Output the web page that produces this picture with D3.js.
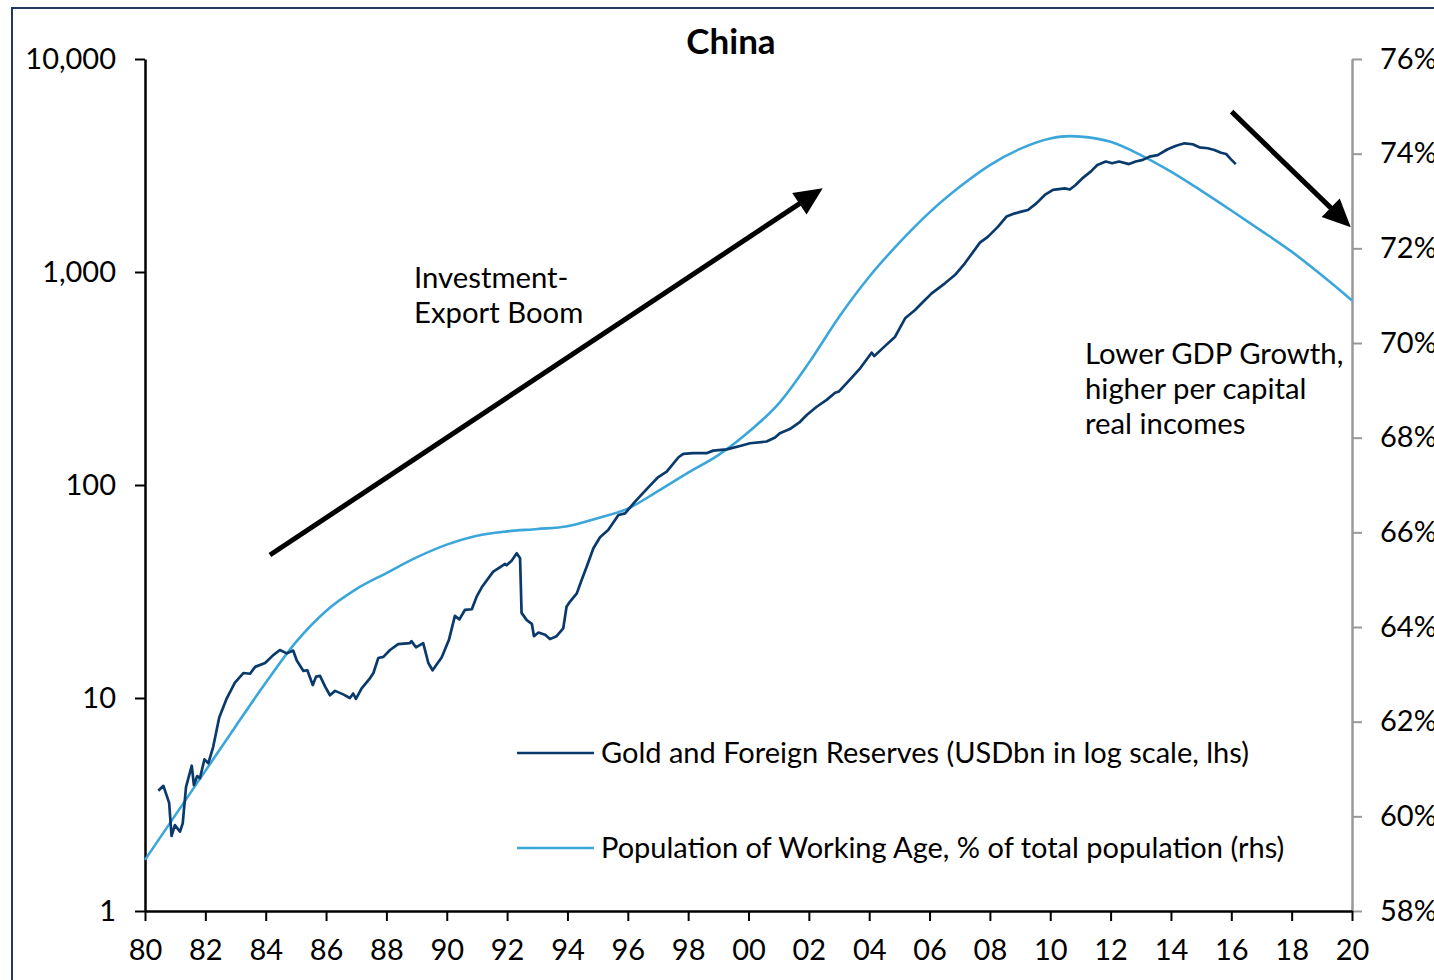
<!DOCTYPE html>
<html>
<head>
<meta charset="utf-8">
<script src="https://cdn.jsdelivr.net/npm/d3@7"></script>
<style>
  html, body { margin: 0; padding: 0; background: #fff; }
  svg { display: block; }
  text { font-family: Lato, "Open Sans", sans-serif; fill: #000; }
</style>
</head>
<body>
<script>
// ---------- DATA ----------
const reserveYears = [1980.44,1980.61,1980.8,1980.88,1980.99,1981.16,1981.25,1981.36,1981.55,1981.62,1981.73,1981.82,1981.97,1982.1,1982.26,1982.46,1982.71,1982.98,1983.26,1983.48,1983.65,1983.98,1984.25,1984.47,1984.7,1984.91,1985.03,1985.25,1985.38,1985.56,1985.67,1985.8,1985.97,1986.13,1986.3,1986.57,1986.79,1986.9,1986.99,1987.18,1987.46,1987.57,1987.73,1987.9,1988.12,1988.39,1988.78,1988.83,1988.98,1989.22,1989.39,1989.53,1989.83,1990.07,1990.27,1990.42,1990.6,1990.83,1990.99,1991.16,1991.54,1991.76,1991.93,1991.98,1992.15,1992.32,1992.43,1992.48,1992.65,1992.82,1992.89,1993.04,1993.26,1993.42,1993.64,1993.86,1993.97,1994.08,1994.31,1994.47,1994.64,1994.86,1995.08,1995.35,1995.69,1995.91,1996.24,1996.68,1997.01,1997.29,1997.68,1997.84,1998.17,1998.61,1998.83,1999.28,1999.72,2000.05,2000.6,2000.88,2001.04,2001.37,2001.71,2001.93,2002.26,2002.59,2002.87,2003.0,2003.3,2003.7,2004.08,2004.17,2004.53,2004.86,2005.19,2005.52,2005.74,2006.07,2006.51,2006.84,2007.17,2007.67,2007.94,2008.27,2008.55,2008.83,2009.04,2009.26,2009.54,2009.82,2010.09,2010.48,2010.65,2010.84,2011.06,2011.34,2011.56,2011.84,2012.05,2012.28,2012.61,2012.83,2013.07,2013.29,2013.56,2013.89,2014.17,2014.45,2014.72,2014.94,2015.22,2015.44,2015.66,2015.83,2015.99,2016.15];
const reserveValues = [3.67,3.87,3.22,2.25,2.53,2.36,2.58,3.83,4.81,3.9,4.3,4.2,5.15,4.94,5.9,8.1,9.97,11.8,13.1,13.0,14.0,14.6,15.9,16.8,16.2,16.7,15.0,13.4,13.5,11.5,12.6,12.7,11.3,10.3,10.8,10.4,10.0,10.5,9.9,11.1,12.4,13.1,15.4,15.6,16.8,17.9,18.1,18.5,17.3,18.1,14.6,13.5,15.5,18.7,24.3,23.4,25.9,26.1,29.9,33.1,39.2,41.1,42.6,42.0,44.1,47.8,45.3,25.1,23.2,22.3,19.5,20.3,19.8,18.9,19.5,21.2,26.8,28.3,31.0,35.8,41.4,50.5,56.8,61.5,72.3,73.6,83.5,97.5,109,115.5,135,140,141,141,145,147,152.5,157,160,167,175,183,198,213,233,251,271,275,306,353,418,403,450,497,606,663,713,794,885,968,1099,1374,1466,1633,1820,1885,1920,1955,2100,2300,2430,2470,2440,2560,2750,2960,3180,3300,3240,3300,3210,3300,3360,3480,3540,3770,3915,4020,3980,3850,3810,3740,3630,3580,3380,3210];

const workYears  = [1980,1981,1982,1983,1984,1985,1986,1987,1988,1989,1990,1991,1992,1993,1994,1995,1996,1997,1998,1999,2000,2001,2002,2003,2004,2005,2006,2007,2008,2009,2010,2010.65,2011,2012,2013,2014,2015,2016,2017,2018,2019,2020];
const workValues = [59.08,60.02,60.96,61.9,62.82,63.68,64.34,64.8,65.14,65.47,65.74,65.93,66.02,66.07,66.13,66.3,66.5,66.87,67.26,67.63,68.12,68.72,69.58,70.55,71.4,72.12,72.76,73.3,73.76,74.1,74.32,74.37,74.36,74.25,73.97,73.62,73.22,72.8,72.37,71.93,71.43,70.9];

const leftTicks  = [1, 10, 100, 1000, 10000];
const rightTicks = [58, 60, 62, 64, 66, 68, 70, 72, 74, 76];
const xTicks = d3.range(1980, 2021, 2);

const titleText = "China";
const legendLabels = ["Gold and Foreign Reserves (USDbn in log scale, lhs)",
                      "Population of Working Age, % of total population (rhs)"];
const annotBoom = ["Investment-", "Export Boom"];
const annotLower = ["Lower GDP Growth,", "higher per capital", "real incomes"];
// arrows in data coordinates: [year, reserves value]
const arrowUp   = [[1984.14, 46.9], [2002.46, 2472]];
const arrowDown = [[2016.01, 5660], [2019.96, 1622]];

// ---------- LAYOUT ----------
const W = 1434, H = 980;
const colDark = "#0a3a6b", colLight = "#3ba6da";
const svg = d3.select("body").append("svg").attr("width", W).attr("height", H);

// frame
svg.append("rect").attr("x", 12).attr("y", 8).attr("width", 1440).attr("height", 1000)
  .attr("fill", "none").attr("stroke", "#1f3b63").attr("stroke-width", 2);

const x  = d3.scaleLinear().domain([1980, 2020]).range([145, 1352]);
const yL = d3.scaleLog().domain([1, 10000]).range([911, 59]);
const yR = d3.scaleLinear().domain([58, 76]).range([911, 59]);

const FS = 29;

// right axis (gray)
const gR = svg.append("g").attr("transform", `translate(${x(2020)},0)`)
  .call(d3.axisRight(yR).tickValues(rightTicks).tickFormat(d => d + "%").tickSize(10).tickSizeOuter(0).tickPadding(18));
gR.select(".domain").attr("stroke", "#999").attr("stroke-width", 2.5);
gR.selectAll(".tick line").attr("stroke", "#999").attr("stroke-width", 2);
gR.selectAll("text").style("font-size", FS + "px").attr("fill", "#000").style("font-family", "Lato");

// left axis
const gL = svg.append("g").attr("transform", `translate(${x(1980)},0)`)
  .call(d3.axisLeft(yL).tickValues(leftTicks).tickFormat(d3.format(",")).tickSize(10).tickSizeOuter(0).tickPadding(19));
gL.select(".domain").attr("stroke", "#000").attr("stroke-width", 2.5);
gL.selectAll(".tick line").attr("stroke", "#000").attr("stroke-width", 2);
gL.selectAll("text").style("font-size", FS + "px").attr("fill", "#000").style("font-family", "Lato");

// bottom axis
const gB = svg.append("g").attr("transform", `translate(0,${yL(1)})`)
  .call(d3.axisBottom(x).tickValues(xTicks).tickFormat(d => String(d % 100).padStart(2, "0")).tickSize(10).tickSizeOuter(0).tickPadding(18));
gB.select(".domain").attr("stroke", "#000").attr("stroke-width", 2.5);
gB.selectAll(".tick line").attr("stroke", "#000").attr("stroke-width", 2);
gB.selectAll("text").style("font-size", FS + "px").attr("fill", "#000").style("font-family", "Lato");

// lines
const resData = reserveYears.map((d, i) => [d, reserveValues[i]]);
const workData = workYears.map((d, i) => [d, workValues[i]]);

svg.append("path").datum(workData)
  .attr("fill", "none").attr("stroke", colLight).attr("stroke-width", 2.6)
  .attr("d", d3.line().x(d => x(d[0])).y(d => yR(d[1])).curve(d3.curveMonotoneX));

svg.append("path").datum(resData)
  .attr("fill", "none").attr("stroke", colDark).attr("stroke-width", 2.7).attr("stroke-linejoin", "round")
  .attr("d", d3.line().x(d => x(d[0])).y(d => yL(d[1])));

// title
svg.append("text").attr("x", 731).attr("y", 54).attr("text-anchor", "middle")
  .style("font-size", "35px").style("font-weight", "bold").text(titleText);

// legend
legendLabels.forEach((t, i) => {
  const cy = 753 + i * 95;
  svg.append("line").attr("x1", 517).attr("x2", 594).attr("y1", cy).attr("y2", cy)
    .attr("stroke", i === 0 ? colDark : colLight).attr("stroke-width", 2.6);
  svg.append("text").attr("x", 601).attr("y", cy + 10).style("font-size", "29px").text(t);
});

// annotations
annotBoom.forEach((t, i) => {
  svg.append("text").attr("x", 414).attr("y", 288 + i * 35).style("font-size", "29.3px").text(t);
});
annotLower.forEach((t, i) => {
  svg.append("text").attr("x", 1085).attr("y", 364 + i * 35).style("font-size", "29.3px").text(t);
});

function arrow(pts) {
  const x0 = x(pts[0][0]), y0 = yL(pts[0][1]);
  const x1 = x(pts[1][0]), y1 = yL(pts[1][1]);
  const ang = Math.atan2(y1 - y0, x1 - x0);
  const hl = 28, hw = 13;
  const bx = x1 - hl * Math.cos(ang), by = y1 - hl * Math.sin(ang);
  svg.append("line").attr("x1", x0).attr("y1", y0).attr("x2", bx + 2 * Math.cos(ang)).attr("y2", by + 2 * Math.sin(ang))
    .attr("stroke", "#000").attr("stroke-width", 5);
  const px = -Math.sin(ang), py = Math.cos(ang);
  svg.append("polygon")
    .attr("points", [[x1, y1], [bx + hw * px, by + hw * py], [bx - hw * px, by - hw * py]].map(p => p.join(",")).join(" "))
    .attr("fill", "#000");
}
arrow(arrowUp);
arrow(arrowDown);
</script>
</body>
</html>
